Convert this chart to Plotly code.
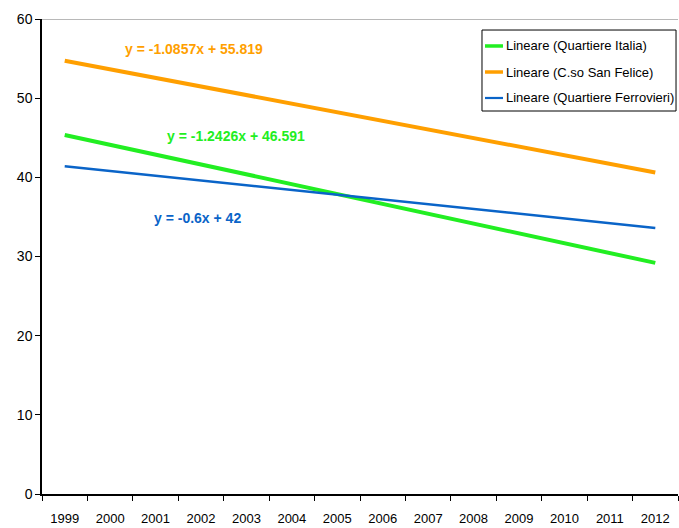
import plotly.graph_objects as go

years = ["1999", "2000", "2001", "2002", "2003", "2004", "2005",
         "2006", "2007", "2008", "2009", "2010", "2011", "2012"]
italia = [45.35, 44.11, 42.86, 41.62, 40.38, 39.13, 37.89,
          36.65, 35.41, 34.16, 32.92, 31.68, 30.43, 29.19]
san_felice = [54.73, 53.65, 52.56, 51.48, 50.39, 49.31, 48.22,
              47.13, 46.05, 44.96, 43.88, 42.79, 41.71, 40.62]
ferrovieri = [41.4, 40.8, 40.2, 39.6, 39.0, 38.4, 37.8,
              37.2, 36.6, 36.0, 35.4, 34.8, 34.2, 33.6]
names = ["Lineare (Quartiere Italia)", "Lineare (C.so San Felice)",
         "Lineare (Quartiere Ferrovieri)"]
equations = ["y = -1.2426x + 46.591", "y = -1.0857x + 55.819", "y = -0.6x + 42"]
y_ticks = [0, 10, 20, 30, 40, 50, 60]

FONT = "Liberation Sans, Arial, sans-serif"
c_green = "#22EE22"
c_orange = "#FF9F00"
c_blue = "#0A64C8"
colors = [c_green, c_orange, c_blue]
widths = [4, 4, 2.5]
series = [italia, san_felice, ferrovieri]

fig = go.Figure()
for nm, vals, col, w in zip(names, series, colors, widths):
    fig.add_trace(go.Scatter(x=years, y=vals, mode="lines", name=nm, showlegend=False,
                             line=dict(color=col, width=w)))

# trendline equation labels
fig.add_annotation(x=2.84, y=56.2, xref="x", yref="y", text="<b>" + equations[1] + "</b>",
                   showarrow=False, font=dict(color=c_orange, size=14, family=FONT))
fig.add_annotation(x=3.76, y=45.2, xref="x", yref="y", text="<b>" + equations[0] + "</b>",
                   showarrow=False, font=dict(color=c_green, size=14, family=FONT))
fig.add_annotation(x=2.92, y=34.9, xref="x", yref="y", text="<b>" + equations[2] + "</b>",
                   showarrow=False, font=dict(color=c_blue, size=14, family=FONT))

# gray top gridline
fig.add_shape(type="line", xref="paper", yref="y", x0=0, x1=1, y0=60, y1=60,
              line=dict(color="#A0A0A0", width=1.5))

# legend box (drawn to match the reference's compact legend)
fig.add_shape(type="rect", xref="paper", yref="paper", x0=0.6918, x1=0.9969,
              y0=0.8063, y1=0.9768, line=dict(color="black", width=1),
              fillcolor="white", layer="above")
legend_rows = [0.9432, 0.8884, 0.8337]
legend_widths = [3.5, 3.5, 2.2]
for nm, col, w, ry in zip(names, colors, legend_widths, legend_rows):
    fig.add_shape(type="line", xref="paper", yref="paper", x0=0.6965, x1=0.7248,
                  y0=ry, y1=ry, line=dict(color=col, width=w), layer="above")
    fig.add_annotation(x=0.7262, y=ry, xref="paper", yref="paper", text=nm,
                       showarrow=False, xanchor="left", yanchor="middle",
                       font=dict(color="black", size=13, family=FONT))

fig.update_layout(
    width=679, height=528,
    margin=dict(l=42, r=1, t=19, b=34, autoexpand=False),
    paper_bgcolor="white", plot_bgcolor="white",
    font=dict(family=FONT, size=13, color="black"),
    showlegend=False,
    xaxis=dict(type="category", range=[-0.5, 13.5], showgrid=False,
               showline=True, linecolor="black", linewidth=1.5,
               ticks="outside", tickson="boundaries", ticklen=5,
               tickcolor="black", tickfont=dict(size=13), zeroline=False,
               ticklabelstandoff=12),
    yaxis=dict(range=[0, 60], tickvals=y_ticks, showgrid=False,
               showline=True, linecolor="black", linewidth=1.5,
               ticks="outside", ticklen=5, tickcolor="black",
               tickfont=dict(size=14), zeroline=False),
)

fig.write_html("out.html", config={"displayModeBar": False})
with open("out.html", "r", encoding="utf-8") as f:
    html = f.read()
html = html.replace("<head>", "<head><style>html,body{margin:0;padding:0;overflow:hidden;}</style>", 1)
with open("out.html", "w", encoding="utf-8") as f:
    f.write(html)
